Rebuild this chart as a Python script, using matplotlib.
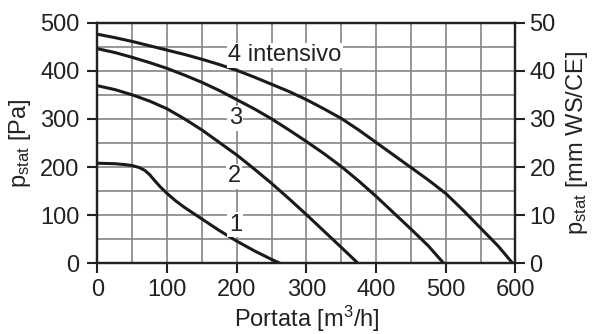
import numpy as np
import matplotlib
matplotlib.use("Agg")
import matplotlib.pyplot as plt

plt.rcParams['font.family'] = ['Liberation Sans', 'DejaVu Sans']
plt.rcParams['mathtext.fontset'] = 'custom'
plt.rcParams['mathtext.rm'] = 'Liberation Sans'
plt.rcParams['mathtext.it'] = 'Liberation Sans'

# fan curves, portata [m3/h] vs pressione statica [Pa]
q1 = [0, 25, 40, 50, 60, 68, 75, 82, 90, 100, 112, 125, 150, 175, 200, 225, 250, 262]
p1 = [208, 207, 205, 203, 199, 193, 184, 172, 159, 145, 130, 116, 92, 68, 46, 26, 8, 0]

q2 = [0, 25, 50, 75, 100, 125, 150, 175, 200, 225, 250, 275, 300, 325, 350, 374]
p2 = [369, 361, 350, 337, 321, 300, 277, 251, 225, 196, 166, 134, 101, 67, 33, 0]

q3 = [0, 25, 50, 75, 100, 125, 150, 175, 200, 225, 250, 275, 300, 325, 350, 375, 400, 425, 450, 475, 497]
p3 = [446, 438, 428, 417, 405, 391, 376, 359, 340, 321, 300, 277, 253, 228, 201, 171, 139, 105, 71, 36, 0]

q4 = [0, 25, 50, 75, 100, 125, 150, 175, 200, 225, 250, 275, 300, 325, 350, 375, 400, 425, 450, 475, 500, 525, 550, 575, 596]
p4 = [476, 469, 461, 452, 443, 434, 424, 413, 401, 387, 372, 357, 340, 321, 301, 277, 251, 225, 199, 173, 145, 110, 73, 36, 0]

curves = [(q1, p1), (q2, p2), (q3, p3), (q4, p4)]
labels = ["1", "2", "3", "4 intensivo"]
label_pos = [(198, 80), (196, 181), (198, 301), (188, 432)]

xticks = [0, 100, 200, 300, 400, 500, 600]
yticks = [0, 100, 200, 300, 400, 500]
yticks_mm = [0, 10, 20, 30, 40, 50]

fs = 17

fig = plt.figure(figsize=(5.93, 3.34), dpi=100)
ax = fig.add_axes([0.1644, 0.2117, 0.7049, 0.7203])

for q, p in curves:
    ax.plot(q, p, color='#1a1a1a', lw=2.2, zorder=3, solid_joinstyle='round')

for txt, (x, y) in zip(labels, label_pos):
    ha = 'left' if len(txt) > 1 else 'center'
    ax.text(x, y, txt, fontsize=fs, ha=ha, va='center', color='#222222', zorder=4,
            bbox=dict(facecolor='white', edgecolor='none', pad=1.0))

ax.set_xlim(0, 600)
ax.set_ylim(0, 500)
ax.set_xticks(xticks)
ax.set_yticks(yticks)
ax.set_xticks(np.arange(0, 601, 50), minor=True)
ax.set_yticks(np.arange(0, 501, 50), minor=True)
ax.tick_params(which='minor', length=0)
ax.grid(True, which='both', color='#858585', lw=1.2, zorder=1)
ax.set_axisbelow(True)

ax.tick_params(which='major', direction='out', length=7, width=1.5, color='#222222',
               labelsize=fs, labelcolor='#222222')
ax.tick_params(axis='y', pad=6)
ax.tick_params(axis='x', pad=4)
for s in ax.spines.values():
    s.set_linewidth(1.6)
    s.set_color('#222222')

ax.set_xlabel(r'Portata [m$^3$/h]', fontsize=fs, color='#222222', labelpad=2)
ax.set_ylabel(r'p$_{\mathregular{stat}}$ [Pa]', fontsize=fs, color='#222222', labelpad=5)

ax2 = ax.twinx()
ax2.set_ylim(0, 50)
ax2.set_yticks(yticks_mm)
ax2.tick_params(direction='out', length=7, width=1.5, color='#222222',
                labelsize=fs, labelcolor='#222222', pad=3)
for s in ax2.spines.values():
    s.set_linewidth(1.6)
    s.set_color('#222222')
ax2.set_ylabel(r'p$_{\mathregular{stat}}$ [mm WS/CE]', fontsize=fs, color='#222222', labelpad=6)

fig.savefig('out.png', dpi=100)
